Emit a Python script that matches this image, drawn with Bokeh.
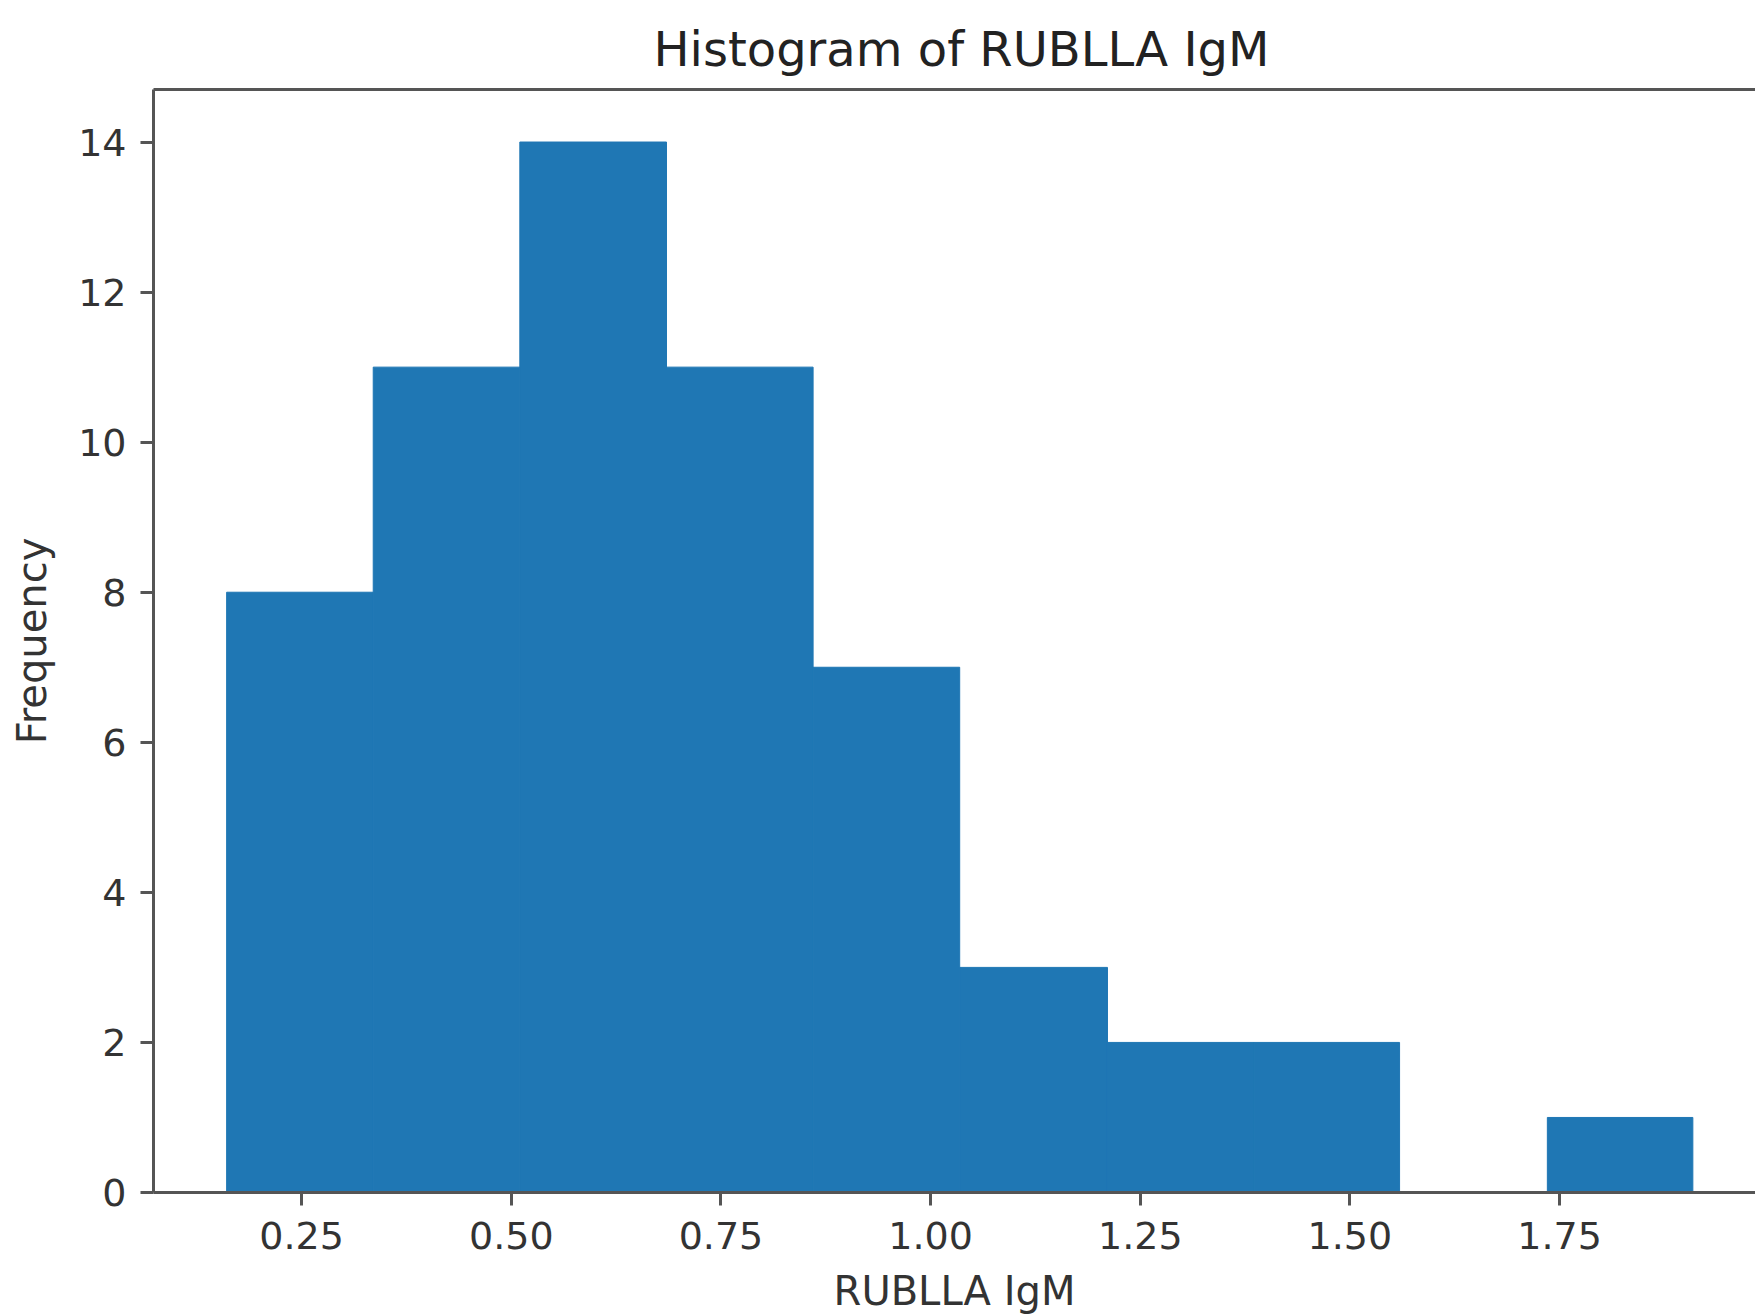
from bokeh.plotting import figure
from bokeh.models import Range1d, FixedTicker, LinearAxis, NumeralTickFormatter, ColumnDataSource
from bokeh.embed import file_html
from bokeh.resources import INLINE

# ---- data ----
bin_edges = [0.1606, 0.3354, 0.5102, 0.6851, 0.8599, 1.0347, 1.2109, 1.3857, 1.5592, 1.7354, 1.9089]
counts = [8, 11, 14, 11, 7, 3, 2, 2, 0, 1]
x_ticks = [0.25, 0.50, 0.75, 1.00, 1.25, 1.50, 1.75]
y_ticks = [0, 2, 4, 6, 8, 10, 12, 14]
title_text = "Histogram of RUBLLA IgM"
x_label = "RUBLLA IgM"
y_label = "Frequency"

FONT = "DejaVu Sans"
SPINE = "#555555"
TEXT = "#333333"
BAR = "#1f77b4"

src = ColumnDataSource(dict(
    left=bin_edges[:-1], right=bin_edges[1:],
    top=counts, bottom=[0] * len(counts),
))

p = figure(width=1755, height=1316, output_backend="svg", toolbar_location=None,
           x_range=Range1d(0.0734, 1.9836), y_range=Range1d(0, 14.7),
           min_border_left=153, min_border_right=0, min_border_top=89, min_border_bottom=124,
           background_fill_color="white", border_fill_color="white")
p.outline_line_color = None
p.grid.visible = False

xb = p.below[0]
yl = p.left[0]

p.quad(left="left", right="right", top="top", bottom="bottom", source=src,
       fill_color=BAR, line_color=BAR, line_width=1)

# title
p.title.text = title_text
p.title.align = "left"
p.title.offset = 500
p.title.standoff = 25
p.title.text_font = FONT
p.title.text_font_size = "48px"
p.title.text_font_style = "normal"
p.title.text_color = "#222222"

for ax in (xb, yl):
    ax.axis_line_color = SPINE
    ax.axis_line_width = 3
    ax.major_tick_line_color = SPINE
    ax.major_tick_line_width = 3
    ax.major_tick_out = 13
    ax.major_tick_in = 0
    ax.minor_tick_line_color = None
    ax.major_label_text_font = FONT
    ax.major_label_text_font_size = "38px"
    ax.major_label_text_color = TEXT
    ax.axis_label_text_font = FONT
    ax.axis_label_text_font_size = "40px"
    ax.axis_label_text_font_style = "normal"
    ax.axis_label_text_color = TEXT

xb.ticker = FixedTicker(ticks=x_ticks)
xb.formatter = NumeralTickFormatter(format="0.00")
xb.major_label_standoff = 16
xb.axis_label = x_label
xb.axis_label_standoff = 16

yl.ticker = FixedTicker(ticks=y_ticks)
yl.major_label_standoff = 14
yl.axis_label = y_label
yl.axis_label_standoff = 20

# top spine
top = LinearAxis(ticker=FixedTicker(ticks=[]), major_label_text_font_size="0px",
                 major_tick_line_color=None, minor_tick_line_color=None,
                 axis_line_color=SPINE, axis_line_width=3)
p.add_layout(top, "above")

open("out.html", "w").write(file_html(p, INLINE))
